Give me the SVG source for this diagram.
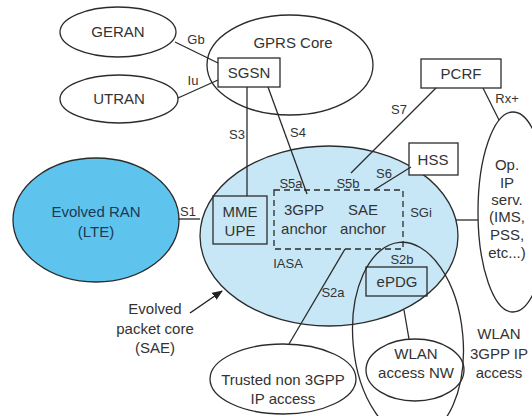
<svg xmlns="http://www.w3.org/2000/svg" width="532" height="416" viewBox="0 0 532 416">
<defs>
<style>
.sh{fill:none;stroke:#2b2b2b;stroke-width:1.3}
.w{fill:#fff;stroke:#2b2b2b;stroke-width:1.3}
.t{font-family:"Liberation Sans",Arial,sans-serif;font-size:15px;fill:#333;text-anchor:middle}
.l{font-family:"Liberation Sans",Arial,sans-serif;font-size:13px;fill:#333;text-anchor:middle}
.c{fill:none;stroke:#2b2b2b;stroke-width:1.3}
</style>
<marker id="ah" viewBox="0 0 10 10" refX="9" refY="5" markerWidth="7" markerHeight="7" orient="auto"><path d="M0,1 L10,5 L0,9 Z" fill="#222"/></marker>
</defs>
<rect width="532" height="416" fill="#fff"/>
<g id="epc"><ellipse cx="329" cy="236" rx="129" ry="90" fill="#c7e7f7" stroke="#2b2b2b" stroke-width="1.3"/>
<text class="t" x="155" y="314">Evolved</text><text class="t" x="155" y="334">packet core</text><text class="t" x="155" y="353">(SAE)</text></g>
<g id="geran"><ellipse class="w" cx="118" cy="32" rx="58" ry="25"/><text class="t" x="118" y="37">GERAN</text></g>
<g id="utran"><ellipse class="w" cx="119" cy="99" rx="59" ry="24"/><text class="t" x="119" y="104">UTRAN</text></g>
<g id="gprs"><ellipse class="sh" cx="290" cy="65" rx="83" ry="50"/><text class="t" x="293" y="48">GPRS Core</text></g>
<g id="sgsn"><rect x="218" y="58" width="62" height="29" fill="#fff" stroke="#2b2b2b" stroke-width="1.3"/><text class="t" x="249" y="78">SGSN</text></g>
<g id="pcrf"><rect x="421" y="59" width="80" height="29" fill="#fff" stroke="#2b2b2b" stroke-width="1.3"/><text class="t" x="461" y="79">PCRF</text></g>
<g id="hss"><rect x="409" y="143" width="49" height="32" fill="#fff" stroke="#2b2b2b" stroke-width="1.3"/><text class="t" x="433" y="165">HSS</text></g>
<g id="opip"><ellipse class="sh" cx="513" cy="212" rx="35" ry="100"/>
<text class="t" x="507" y="170">Op.</text><text class="t" x="507" y="188">IP</text><text class="t" x="507" y="205">serv.</text><text class="t" x="507" y="222">(IMS,</text><text class="t" x="507" y="240">PSS,</text><text class="t" x="507" y="258">etc...)</text></g>
<g id="ran"><ellipse cx="96" cy="220" rx="83" ry="62" fill="#5ec4ee" stroke="#2b2b2b" stroke-width="1.3"/><text class="t" x="96" y="217" fill="#1b3a52" style="fill:#1b3a52">Evolved RAN</text><text class="t" x="96" y="237" style="fill:#1b3a52">(LTE)</text></g>
<g id="mme"><rect class="sh" x="213" y="196" width="54" height="48"/><text class="t" x="240" y="217">MME</text><text class="t" x="240" y="236">UPE</text></g>
<g id="iasa"><rect x="274" y="190" width="129" height="59" fill="none" stroke="#2b2b2b" stroke-width="1.3" stroke-dasharray="6,4"/>
<text class="t" x="304" y="215">3GPP</text><text class="t" x="304" y="234">anchor</text><text class="t" x="363" y="215">SAE</text><text class="t" x="363" y="234">anchor</text><text class="l" x="288" y="268">IASA</text></g>
<g id="epdg"><rect class="sh" x="366" y="267" width="61" height="29"/><text class="t" x="397" y="287">ePDG</text></g>
<g id="trusted"><ellipse class="w" cx="283" cy="379" rx="73" ry="35"/><text class="t" x="283" y="385">Trusted non 3GPP</text><text class="t" x="283" y="404">IP access</text></g>
<g id="wlan3gpp"><ellipse class="sh" cx="408" cy="340" rx="55" ry="98" transform="rotate(-5 408 340)"/><text class="t" x="499" y="339">WLAN</text><text class="t" x="499" y="359">3GPP IP</text><text class="t" x="499" y="378">access</text></g>
<g id="wlannw"><ellipse class="sh" cx="415" cy="370" rx="49" ry="31"/><text class="t" x="416" y="359">WLAN</text><text class="t" x="416" y="378">access NW</text></g>
<g id="connectors">
<line class="c" x1="175" y1="42" x2="218" y2="63"/><text class="l" x="196" y="44">Gb</text>
<line class="c" x1="178" y1="98" x2="218" y2="80"/><text class="l" x="193" y="85">Iu</text>
<line class="c" x1="247" y1="87" x2="247" y2="196"/><text class="l" x="237" y="139">S3</text>
<line class="c" x1="268" y1="87" x2="307" y2="194"/><text class="l" x="298" y="137">S4</text>
<line class="c" x1="436" y1="88" x2="351" y2="173"/><text class="l" x="399" y="114">S7</text>
<line class="c" x1="483" y1="88" x2="499" y2="120"/><text class="l" x="507" y="103">Rx+</text>
<line class="c" x1="411" y1="167" x2="374" y2="190"/><text class="l" x="384" y="178">S6</text>
<text class="l" x="291" y="188">S5a</text><text class="l" x="348" y="188">S5b</text>
<line class="c" x1="178" y1="219" x2="200" y2="219"/><text class="l" x="188" y="216">S1</text>
<line class="c" x1="456" y1="220" x2="478" y2="220"/><text class="l" x="421" y="217">SGi</text>
<line class="c" x1="345" y1="249" x2="289" y2="344"/><text class="l" x="333" y="297">S2a</text>
<text class="l" x="402" y="264">S2b</text>
<line class="c" x1="404" y1="310" x2="409" y2="339"/>
<line x1="190" y1="313" x2="222" y2="291" stroke="#222" stroke-width="1.5" marker-end="url(#ah)"/>
</g>
</svg>
